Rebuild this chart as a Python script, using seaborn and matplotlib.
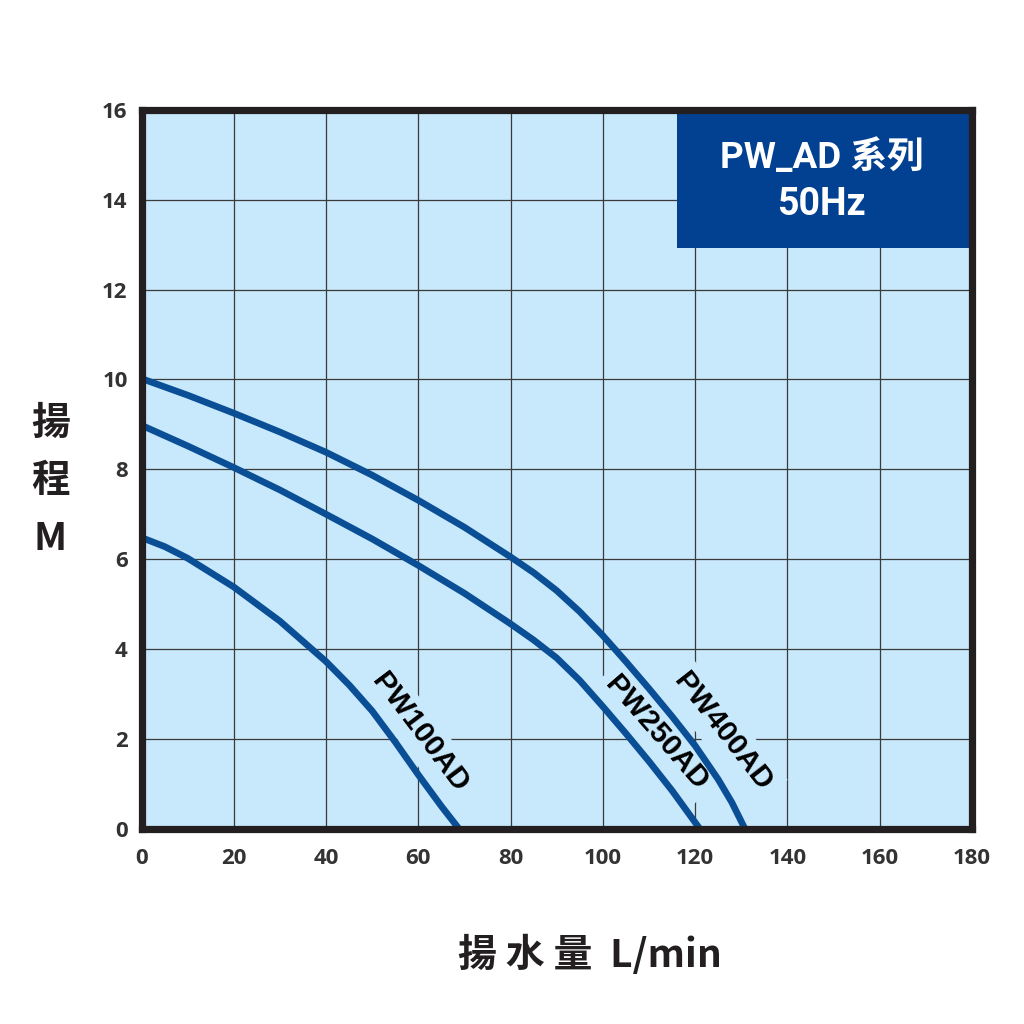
import matplotlib as mpl
mpl.use("Agg")
import pandas as pd
import matplotlib.pyplot as plt
import seaborn as sns
from matplotlib.patches import Rectangle

# 读图得到的曲线点 (流量 L/min, 扬程 M)
pw100_x = [0, 5, 10, 20, 30, 40, 45, 50, 55, 60, 65, 68.8]
pw100_y = [6.48, 6.28, 6.02, 5.38, 4.62, 3.72, 3.2, 2.62, 1.93, 1.2, 0.5, 0.0]
pw250_x = [0, 10, 20, 30, 40, 50, 60, 70, 80, 85, 90, 95, 100, 105, 110, 115, 121]
pw250_y = [8.98, 8.52, 8.04, 7.54, 7.0, 6.45, 5.86, 5.24, 4.56, 4.2, 3.8, 3.3, 2.72, 2.12, 1.5, 0.85, 0.0]
pw400_x = [0, 10, 20, 30, 40, 50, 60, 70, 80, 85, 90, 95, 100, 105, 110, 115, 120, 125, 128, 130.8]
pw400_y = [10.02, 9.65, 9.25, 8.83, 8.38, 7.87, 7.31, 6.71, 6.05, 5.7, 5.3, 4.83, 4.3, 3.72, 3.12, 2.5,
           1.85, 1.1, 0.58, 0.0]

models = ['PW100AD', 'PW250AD', 'PW400AD']
label_pos = {'PW100AD': (60.3, 2.13, -53), 'PW250AD': (111.6, 2.12, -49), 'PW400AD': (126.0, 2.16, -52)}

x_ticks = list(range(0, 181, 20))
y_ticks = list(range(0, 17, 2))

BG = '#c8e8fb'
INK = '#231f20'
LINE = '#0a4f96'
BOX = '#024191'

df = pd.concat([
    pd.DataFrame({'flow': pw100_x, 'head': pw100_y, 'model': 'PW100AD'}),
    pd.DataFrame({'flow': pw250_x, 'head': pw250_y, 'model': 'PW250AD'}),
    pd.DataFrame({'flow': pw400_x, 'head': pw400_y, 'model': 'PW400AD'}),
])

sns.set_theme(style='white')
plt.rcParams['font.family'] = ['Noto Sans CJK TC', 'DejaVu Sans']

fig = plt.figure(figsize=(10.24, 10.24), dpi=100)
ax = fig.add_axes([0.1382, 0.1908, 0.8108, 0.7018])
ax.set_facecolor(BG)

sns.lineplot(data=df, x='flow', y='head', hue='model', palette=[LINE] * 3,
             estimator=None, sort=False, linewidth=4.8, legend=False, ax=ax, zorder=3)
for line in ax.lines:
    line.set_solid_capstyle('butt')
    line.set_solid_joinstyle('round')

ax.set_xlim(0, 180)
ax.set_ylim(0, 16)
ax.set_xticks(x_ticks)
ax.set_yticks(y_ticks)
ax.set_axisbelow(True)
ax.grid(True, color='#3a3a3a', linewidth=0.9)

for s in ax.spines.values():
    s.set_visible(True)
    s.set_color(INK)
    s.set_linewidth(5.2)
    s.set_zorder(5)

ax.tick_params(axis='both', length=0, labelcolor='#333333')
ax.tick_params(axis='x', pad=14)
ax.tick_params(axis='y', pad=10)
for t in ax.get_xticklabels() + ax.get_yticklabels():
    t.set_fontfamily(['Open Sans', 'DejaVu Sans'])
    t.set_fontweight('bold')
    t.set_fontsize(16)

# 曲线标签
for m in models:
    x, y, rot = label_pos[m]
    ax.text(x, y, m, rotation=rot, rotation_mode='anchor', ha='center', va='center',
            fontsize=21.5, fontweight='bold', color='black', family=['Liberation Sans', 'DejaVu Sans'],
            zorder=2, bbox=dict(boxstyle='square,pad=0.25', facecolor=BG, edgecolor='none'))

# 系列名称框
ax.add_patch(Rectangle((0.645, 0.808), 0.355, 0.192, transform=ax.transAxes,
                       facecolor=BOX, edgecolor='none', zorder=4))
ax.text(0.819, 0.933, 'PW_AD 系列', transform=ax.transAxes, ha='center', va='center',
        fontsize=26.5, fontweight='bold', color='white', zorder=6,
        family=['Roboto', 'Noto Sans CJK TC'])
ax.text(0.819, 0.868, '50Hz', transform=ax.transAxes, ha='center', va='center',
        fontsize=27, fontweight='bold', color='white', zorder=6,
        family=['Roboto', 'Noto Sans CJK TC'])

ax.set_xlabel('揚 水 量  L/min', fontsize=28, fontweight='bold', color=INK)
ax.xaxis.set_label_coords(0.540, -0.148)
ax.set_ylabel('揚\n程\nM', rotation=0, fontsize=28, fontweight='bold', color=INK,
              linespacing=1.6, va='center', ha='center')
ax.yaxis.set_label_coords(-0.110, 0.484)

fig.savefig('out.png', dpi=100, facecolor='white')
plt.close(fig)
